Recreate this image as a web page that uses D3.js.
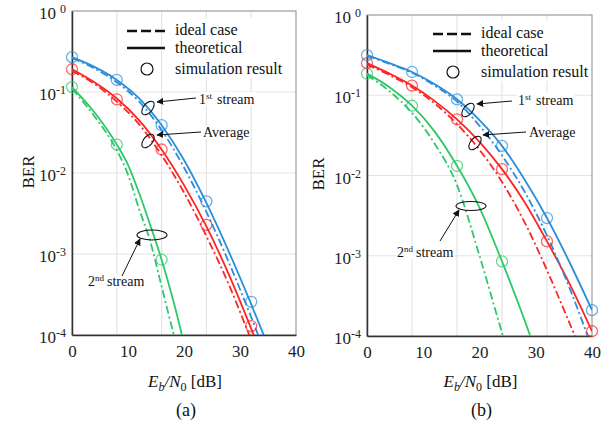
<!doctype html>
<html>
<head>
<script src="https://cdn.jsdelivr.net/npm/d3@7/dist/d3.min.js"></script>
<style>
  body { margin: 0; background: #fff; }
  svg { font-family: "Liberation Serif", "Times New Roman", serif; }
  .grid line { stroke: #e4e4e4; stroke-width: 1.2; }
  .ann { font-size: 14px; fill: #111; }
</style>
</head>
<body>
<svg width="614" height="424" font-family="Liberation Serif, serif"></svg>
<script>
// ---- data ----
var simSnrA = [0, 8, 16, 24, 32];
var simA1st = [0.269, 0.141, 0.0389, 0.00447, 2.57e-4];
var simAavg = [0.191, 0.0813, 0.0195, 0.00229, 1.29e-4];
var simA2nd = [0.115, 0.0224, 8.5e-4];

var snrA = [0, 4, 8, 12, 16, 20, 24, 28, 32, 36];
var theoA1st  = [0.269, 0.204, 0.141, 0.0832, 0.0389, 0.0145, 0.00427, 0.00107, 2.4e-4, 5.0e-5];
var idealA1st = [0.263, 0.195, 0.132, 0.0759, 0.0339, 0.0117, 0.00331, 7.9e-4, 1.66e-4, 3.2e-5];
var theoAavg  = [0.191, 0.132, 0.0832, 0.0447, 0.0195, 0.00708, 0.00219, 5.6e-4, 1.2e-4, 2.5e-5];
var idealAavg = [0.182, 0.126, 0.0759, 0.0398, 0.0166, 0.00575, 0.00166, 4.2e-4, 8.7e-5, 1.8e-5];
var snrA2 = [0, 4, 8, 10, 12, 14, 16, 18, 20];
var theoA2nd  = [0.115, 0.0562, 0.0224, 0.0126, 0.00562, 0.00224, 8.5e-4, 2.8e-4, 7.9e-5];
var idealA2nd = [0.110, 0.0501, 0.0191, 0.00955, 0.00355, 0.00141, 3.98e-4, 1.12e-4, 3.2e-5];

var simSnrB = [0, 8, 16, 24, 32, 40];
var simB1st = [0.316, 0.195, 0.089, 0.0234, 0.00295, 2.1e-4];
var simBavg = [0.251, 0.132, 0.050, 0.012, 0.00151, 1.15e-4];
var simB2nd = [0.186, 0.074, 0.0132, 8.5e-4];

var snrB = [0, 4, 8, 12, 16, 20, 24, 28, 32, 36, 40];
var theoB1st  = [0.316, 0.251, 0.195, 0.138, 0.0891, 0.049, 0.0234, 0.00891, 0.00295, 8.3e-4, 2.1e-4];
var idealB1st = [0.31, 0.246, 0.191, 0.132, 0.0832, 0.0417, 0.0178, 0.00631, 0.00178, 3.98e-4, 7.1e-5];
var theoBavg  = [0.251, 0.186, 0.132, 0.0851, 0.0501, 0.0263, 0.012, 0.00468, 0.00151, 4.5e-4, 1.15e-4];
var idealBavg = [0.24, 0.178, 0.126, 0.0794, 0.0437, 0.0209, 0.00832, 0.00263, 6.6e-4, 1.45e-4, 3.2e-5];
var snrB2 = [0, 4, 8, 12, 16, 20, 24, 28, 32];
var theoB2nd  = [0.186, 0.126, 0.0741, 0.0355, 0.0132, 0.00398, 8.5e-4, 1.58e-4, 2.5e-5];
var snrB2i = [0, 4, 8, 12, 16, 20, 24, 28];
var idealB2nd = [0.178, 0.112, 0.0603, 0.0251, 0.00759, 0.001, 1.1e-4, 1.3e-5];

var xTicks = [0, 10, 20, 30, 40];
var yTicks = [1, 1e-1, 1e-2, 1e-3, 1e-4];
var gridX = [8, 16, 24, 32];
var gridY = [1e-1, 1e-2, 1e-3];
var legText = ["ideal case", "theoretical", "simulation result"];

var colors = { first: "#2a8edb", avg: "#ff2424", second: "#2ec868" };

var svg = d3.select("svg");

var defs = svg.append("defs");
defs.append("marker")
    .attr("id", "arrow")
    .attr("viewBox", "0 0 10 10")
    .attr("refX", 9).attr("refY", 5)
    .attr("markerWidth", 7).attr("markerHeight", 7)
    .attr("markerUnits", "userSpaceOnUse")
    .attr("orient", "auto")
  .append("path")
    .attr("d", "M0,0 L10,5 L0,10 z")
    .attr("fill", "#111");

function drawPanel(p) {
  var x = d3.scaleLinear().domain([0, 40]).range([p.x0, p.x1]);
  var y = d3.scaleLog().domain([1e-4, 1]).range([p.y1, p.y0]);
  var g = svg.append("g");

  defs.append("clipPath").attr("id", "clip" + p.id)
    .append("rect")
      .attr("x", p.x0).attr("y", p.y0)
      .attr("width", p.x1 - p.x0).attr("height", p.y1 - p.y0);

  var grid = g.append("g").attr("class", "grid");
  grid.selectAll("line.v").data(gridX).enter().append("line")
      .attr("class", "v")
      .attr("x1", d => x(d)).attr("x2", d => x(d))
      .attr("y1", p.y0).attr("y2", p.y1);
  grid.selectAll("line.h").data(gridY).enter().append("line")
      .attr("class", "h")
      .attr("x1", p.x0).attr("x2", p.x1)
      .attr("y1", d => y(d)).attr("y2", d => y(d));

  // frame: gray top/right, dark left/bottom
  g.append("rect")
      .attr("x", p.x0).attr("y", p.y0)
      .attr("width", p.x1 - p.x0).attr("height", p.y1 - p.y0)
      .attr("fill", "none").attr("stroke", "#888").attr("stroke-width", 1);

  // axes
  var xAxis = g.append("g")
      .attr("transform", `translate(0,${p.y1})`)
      .call(d3.axisBottom(x).tickValues(xTicks).tickSize(0).tickPadding(10));
  xAxis.attr("font-family", "Liberation Serif, serif");
  xAxis.select(".domain").attr("stroke", "#333").attr("stroke-width", 1.5);
  xAxis.selectAll("text")
      .style("font-size", "17px").attr("fill", "#222");

  var yAxis = g.append("g")
      .attr("transform", `translate(${p.x0},0)`)
      .call(d3.axisLeft(y).tickValues(yTicks).tickSize(0).tickPadding(6).tickFormat(""));
  yAxis.attr("font-family", "Liberation Serif, serif");
  yAxis.select(".domain").attr("stroke", "#333").attr("stroke-width", 1.5);
  yAxis.selectAll(".tick text")
      .style("font-size", "17px").attr("fill", "#222")
      .attr("dy", "0.45em")
      .each(function(d) {
        var t = d3.select(this);
        var e = Math.round(Math.log10(d));
        t.append("tspan").text("10");
        t.append("tspan")
            .attr("dy", "-0.5em").attr("dx", e === 0 ? 4 : 0)
            .style("font-size", "12px")
            .text(e === 0 ? "0" : "-" + Math.abs(e));
      });

  // curves
  var line = d3.line()
      .x(d => x(d[0]))
      .y(d => y(d[1]))
      .curve(d3.curveMonotoneX);
  var plot = g.append("g").attr("clip-path", `url(#clip${p.id})`);

  p.series.forEach(s => {
    plot.append("path")
        .datum(s.snrIdeal.map((v, i) => [v, s.ideal[i]]))
        .attr("d", line)
        .attr("fill", "none")
        .attr("stroke", s.color)
        .attr("stroke-width", 1.8)
        .attr("stroke-dasharray", "8,3,2,3");
    plot.append("path")
        .datum(s.snrTheo.map((v, i) => [v, s.theo[i]]))
        .attr("d", line)
        .attr("fill", "none")
        .attr("stroke", s.color)
        .attr("stroke-width", 1.8);
  });
  p.series.forEach(s => {
    g.selectAll(null)
        .data(s.sim.map((v, i) => [p.simSnr[i], v]))
        .enter()
        .append("circle")
          .attr("cx", d => x(d[0]))
          .attr("cy", d => y(d[1]))
          .attr("r", 5.5)
          .attr("fill", "none")
          .attr("stroke", s.color)
          .attr("stroke-opacity", 0.7)
          .attr("stroke-width", 1.3);
  });

  // legend
  var lg = g.append("g");
  var lx = p.legX, ly = p.legY;
  lg.append("rect").attr("x", lx + 44).attr("y", ly - 13).attr("width", 114).attr("height", 60).attr("fill", "#fff");
  lg.append("line").attr("x1", lx).attr("x2", lx + 38).attr("y1", ly).attr("y2", ly)
      .attr("stroke", "#111").attr("stroke-width", 2.4).attr("stroke-dasharray", "10,4");
  lg.append("line").attr("x1", lx).attr("x2", lx + 38).attr("y1", ly + 17).attr("y2", ly + 17)
      .attr("stroke", "#111").attr("stroke-width", 2.4);
  lg.append("circle").attr("cx", lx + 20).attr("cy", ly + 38).attr("r", 6)
      .attr("fill", "none").attr("stroke", "#111").attr("stroke-width", 1.2);
  lg.selectAll("text").data(legText).enter().append("text")
      .attr("x", lx + 48)
      .attr("y", (d, i) => ly + 4 + [0, 18, 39][i])
      .style("font-size", "16px")
      .attr("fill", "#111")
      .text(d => d);

  // axis titles
  var t = g.append("text")
      .attr("x", (p.x0 + p.x1) / 2 + 1).attr("y", 387)
      .attr("text-anchor", "middle")
      .style("font-size", "17px").attr("fill", "#111");
  t.append("tspan").style("font-style", "italic").text("E");
  t.append("tspan").style("font-style", "italic").style("font-size", "12px").attr("dy", 4).text("b");
  t.append("tspan").style("font-style", "italic").attr("dy", -4).text("/");
  t.append("tspan").style("font-style", "italic").text("N");
  t.append("tspan").style("font-size", "12px").attr("dy", 4).text("0");
  t.append("tspan").attr("dy", -4).text(" [dB]");

  g.append("text")
      .attr("x", (p.x0 + p.x1) / 2 + 2).attr("y", 416)
      .attr("text-anchor", "middle")
      .style("font-size", "18px").attr("fill", "#111")
      .text(p.label);

  g.append("text")
      .attr("transform", `translate(${p.berX},${p.berY}) rotate(-90)`)
      .attr("text-anchor", "middle")
      .style("font-size", "17px").attr("fill", "#111")
      .text("BER");

  // annotations
  p.notes.forEach(n => {
    var el = g.append("ellipse")
        .attr("cx", n.ex).attr("cy", n.ey)
        .attr("rx", n.rx).attr("ry", n.ry)
        .attr("fill", "none").attr("stroke", "#111").attr("stroke-width", 1.1);
    if (n.rot) el.attr("transform", `rotate(${n.rot},${n.ex},${n.ey})`);
    var txt = g.append("text")
        .attr("class", "ann")
        .attr("x", n.tx).attr("y", n.ty);
    txt.append("tspan").text(n.main);
    if (n.sup) {
      txt.append("tspan").attr("dy", -5).style("font-size", "9px").text(n.sup);
      txt.append("tspan").attr("dy", 5).attr("dx", n.gap).text(n.rest);
    }
    var bb = txt.node().getBBox();
    g.insert("rect", function() { return txt.node(); })
        .attr("x", bb.x - 1).attr("y", bb.y + 1)
        .attr("width", bb.width + 2).attr("height", bb.height - 2)
        .attr("fill", "#fff");
    g.append("line")
        .attr("x1", n.a[0]).attr("y1", n.a[1])
        .attr("x2", n.a[2]).attr("y2", n.a[3])
        .attr("stroke", "#111").attr("stroke-width", 1)
        .attr("marker-end", "url(#arrow)");
  });
}

drawPanel({
  id: "a", label: "(a)",
  x0: 72, x1: 296, y0: 11, y1: 335,
  berX: 34, berY: 172,
  legX: 127, legY: 31,
  simSnr: simSnrA,
  series: [
    { color: colors.second, snrTheo: snrA2, theo: theoA2nd, snrIdeal: snrA2, ideal: idealA2nd, sim: simA2nd },
    { color: colors.avg, snrTheo: snrA, theo: theoAavg, snrIdeal: snrA, ideal: idealAavg, sim: simAavg },
    { color: colors.first, snrTheo: snrA, theo: theoA1st, snrIdeal: snrA, ideal: idealA1st, sim: simA1st }
  ],
  notes: [
    { main: "1", sup: "st", rest: "stream", gap: 5, tx: 199, ty: 104, ex: 148, ey: 108, rx: 8, ry: 4.5, rot: -50, a: [196, 98, 157, 102] },
    { main: "Average", tx: 203, ty: 137, ex: 148, ey: 141, rx: 8, ry: 4.5, rot: -50, a: [201, 132, 157, 135] },
    { main: "2", sup: "nd", rest: "stream", gap: 3, tx: 88, ty: 286, ex: 152, ey: 235, rx: 15, ry: 5, a: [122, 276, 140, 239] }
  ]
});

drawPanel({
  id: "b", label: "(b)",
  x0: 367, x1: 592, y0: 15, y1: 336,
  berX: 324, berY: 174,
  legX: 433, legY: 34,
  simSnr: simSnrB,
  series: [
    { color: colors.second, snrTheo: snrB2, theo: theoB2nd, snrIdeal: snrB2i, ideal: idealB2nd, sim: simB2nd },
    { color: colors.avg, snrTheo: snrB, theo: theoBavg, snrIdeal: snrB, ideal: idealBavg, sim: simBavg },
    { color: colors.first, snrTheo: snrB, theo: theoB1st, snrIdeal: snrB, ideal: idealB1st, sim: simB1st }
  ],
  notes: [
    { main: "1", sup: "st", rest: "stream", gap: 5, tx: 518, ty: 105, ex: 468, ey: 110, rx: 8, ry: 4.5, rot: -50, a: [512, 101, 477, 104] },
    { main: "Average", tx: 529, ty: 137, ex: 475, ey: 143, rx: 8, ry: 4.5, rot: -50, a: [526, 132, 483, 135] },
    { main: "2", sup: "nd", rest: "stream", gap: 3, tx: 397, ty: 257, ex: 471, ey: 206, rx: 15, ry: 4.5, a: [440, 241, 459, 210] }
  ]
});
</script>
</body>
</html>
